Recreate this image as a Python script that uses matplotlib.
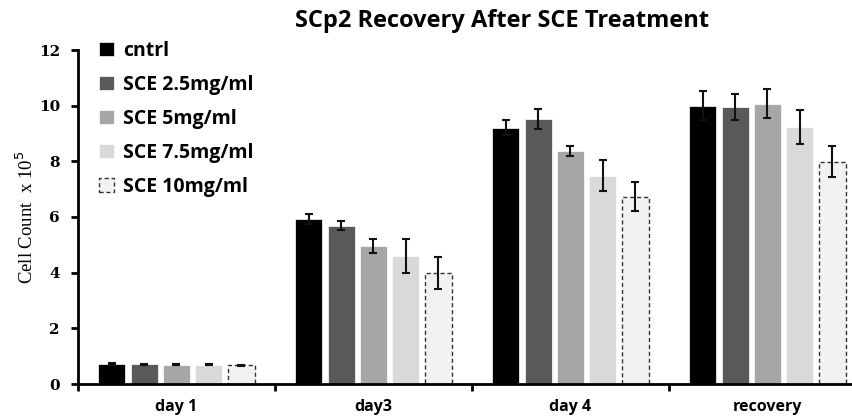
import numpy as np
import matplotlib
matplotlib.use("Agg")
import matplotlib.pyplot as plt

days = ["day 1", "day3", "day 4", "recovery"]
groups = ["cntrl", "SCE 2.5mg/ml", "SCE 5mg/ml", "SCE 7.5mg/ml", "SCE 10mg/ml"]

# cell counts (x 10^5) per treatment, one value per day
cntrl = [0.72, 5.93, 9.21, 10.00]
sce_25 = [0.71, 5.69, 9.53, 9.95]
sce_5 = [0.70, 4.96, 8.37, 10.07]
sce_75 = [0.70, 4.60, 7.49, 9.23]
sce_10 = [0.68, 3.98, 6.73, 7.99]

cntrl_err = [0.02, 0.19, 0.26, 0.52]
sce_25_err = [0.02, 0.17, 0.36, 0.46]
sce_5_err = [0.02, 0.24, 0.18, 0.52]
sce_75_err = [0.02, 0.60, 0.55, 0.60]
sce_10_err = [0.02, 0.58, 0.51, 0.57]

values = [cntrl, sce_25, sce_5, sce_75, sce_10]
errors = [cntrl_err, sce_25_err, sce_5_err, sce_75_err, sce_10_err]
colors = ["#000000", "#595959", "#a6a6a6", "#d9d9d9", "#f2f2f2"]

fig = plt.figure(figsize=(8.53, 4.16), dpi=100)
ax = fig.add_axes([78 / 853, 32 / 416, 788 / 853, 334 / 416])

x = np.arange(len(days))
width = 0.137
pitch = 0.164
for i, (vals, errs) in enumerate(zip(values, errors)):
    pos = x + (i - 2) * pitch
    if i == 4:
        ax.bar(pos, vals, width, color=colors[i], edgecolor="#333333",
               linewidth=1, linestyle=(0, (3, 2)), label=groups[i])
    else:
        ax.bar(pos, vals, width, color=colors[i], edgecolor="white",
               linewidth=0.5, label=groups[i])
    ax.errorbar(pos, vals, yerr=errs, fmt="none", ecolor="#111111",
                elinewidth=1.5, capsize=3, capthick=1.5)

ax.set_xlim(-0.5, 3.5)
ax.set_ylim(0, 12)
ax.set_yticks(np.arange(0, 13, 2))
ax.set_yticklabels([str(v) for v in range(0, 13, 2)],
                   fontfamily="DejaVu Serif", fontweight="bold", fontsize=11)
ax.set_xticks(x)
ax.set_xticklabels(days, fontfamily="Open Sans", fontweight="bold", fontsize=11.5)
ax.set_xticks([-0.5, 0.5, 1.5, 2.5], minor=True)
ax.tick_params(axis="x", which="major", length=0, pad=11)
ax.tick_params(axis="x", which="minor", length=5, width=2, direction="out")
ax.tick_params(axis="y", length=5, width=2, direction="out", pad=8)

for side in ["top", "right"]:
    ax.spines[side].set_visible(False)
for side in ["left", "bottom"]:
    ax.spines[side].set_linewidth(2)

ax.set_ylabel("Cell Count  x 10$^{5}$", fontfamily="Liberation Serif",
              fontsize=13.5, labelpad=1)

fig.text(502 / 853, 1 - 21 / 416, "SCp2 Recovery After SCE Treatment",
         ha="center", va="center", fontfamily="Open Sans", fontweight="bold",
         fontsize=17)

leg = ax.legend(loc="upper left", bbox_to_anchor=(0.005, 1.08), frameon=False,
                handlelength=0.75, handleheight=0.75, handletextpad=0.45,
                labelspacing=0.72,
                prop={"family": "Open Sans", "weight": "bold", "size": 14})

fig.savefig("out.png", dpi=100)
